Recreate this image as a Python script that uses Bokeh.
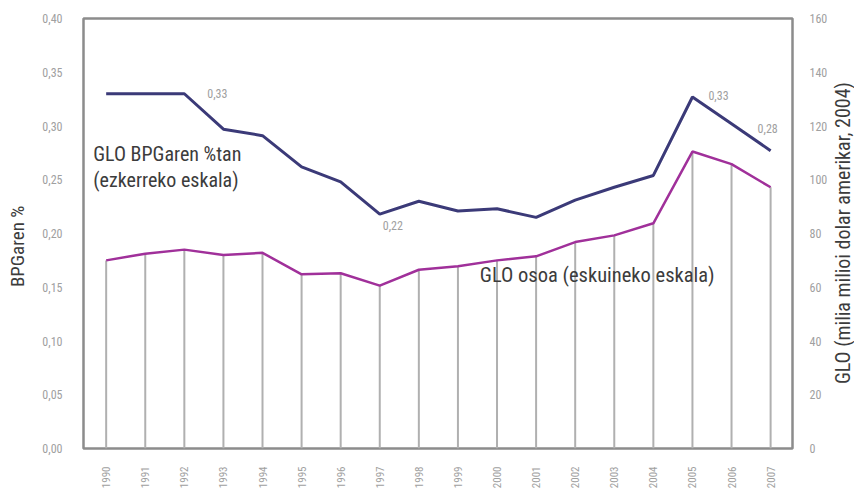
from bokeh.plotting import figure
from bokeh.models import Range1d, LinearAxis, FixedTicker, Label
from bokeh.layouts import row
from bokeh.embed import file_html
from bokeh.resources import INLINE
import math

years = list(range(1990, 2008))
pct_gni = [0.33, 0.33, 0.33, 0.297, 0.291, 0.262, 0.248, 0.218, 0.23, 0.221, 0.223,
           0.215, 0.231, 0.243, 0.254, 0.327, 0.302, 0.277]
glo_total = [70.0, 72.5, 74.0, 72.0, 72.8, 64.8, 65.2, 60.6, 66.5, 67.8, 70.0,
             71.5, 76.8, 79.3, 83.8, 110.5, 105.8, 97.2]
left_ticks = [0.0, 0.05, 0.10, 0.15, 0.20, 0.25, 0.30, 0.35, 0.40]
left_tick_labels = ["0,00", "0,05", "0,10", "0,15", "0,20", "0,25", "0,30", "0,35", "0,40"]
right_ticks = [0, 20, 40, 60, 80, 100, 120, 140, 160]
annot_years = [1992, 1997, 2005, 2007]
annot_text = ["0,33", "0,22", "0,33", "0,28"]
left_title = "BPGaren %"
right_title = "GLO (milia milioi dolar amerikar, 2004)"

FONT = "Liberation Sans Narrow, Roboto Condensed, Liberation Sans, sans-serif"
TICK_COLOR = "#a0a0a0"
TEXT_COLOR = "#3c3c3c"
H = 491


def title_strip(width, text, fx, fy, size):
    s = figure(width=width, height=H, output_backend="svg", toolbar_location=None,
               x_range=Range1d(0, 1), y_range=Range1d(0, 1),
               min_border=0, min_border_left=0, min_border_right=0,
               min_border_top=0, min_border_bottom=0)
    s.axis.visible = False
    s.grid.visible = False
    s.outline_line_color = None
    s.background_fill_color = "white"
    s.border_fill_color = "white"
    s.add_layout(Label(x=fx, y=fy, text=text, angle=math.pi / 2, text_align="center",
                       text_baseline="middle", text_font=FONT, text_font_size=size,
                       text_color=TEXT_COLOR))
    return s


p = figure(width=800, height=H, output_backend="svg", toolbar_location=None,
           x_range=Range1d(1989.42, 2007.56), y_range=Range1d(0, 0.40),
           min_border_left=53, min_border_right=33, min_border_top=18, min_border_bottom=42)
p.extra_y_ranges = {"glo": Range1d(0, 160)}
p.xgrid.visible = False
p.ygrid.visible = False
p.outline_line_color = "#8c8c8c"
p.outline_line_width = 2.5
p.background_fill_color = "white"
p.border_fill_color = "white"

# drop lines (GLO total)
p.segment(x0=years, y0=[0] * len(years), x1=years, y1=glo_total, y_range_name="glo",
          line_color="#b0b0b0", line_width=2)

p.line(years, glo_total, y_range_name="glo", line_color="#a0309a", line_width=2.5)
p.line(years, pct_gni, line_color="#3b3a78", line_width=3)

# axes
left = p.yaxis[0]
left.ticker = FixedTicker(ticks=left_ticks)
left.major_label_overrides = {t: l for t, l in zip(left_ticks, left_tick_labels)}
left.major_label_standoff = 15

right = LinearAxis(y_range_name="glo", ticker=FixedTicker(ticks=right_ticks))
right.major_label_standoff = 11
p.add_layout(right, "right")

p.xaxis.ticker = FixedTicker(ticks=years)
p.xaxis.major_label_orientation = math.pi / 2
p.xaxis.major_label_standoff = 12

for ax in p.yaxis + p.xaxis:
    ax.axis_line_color = None
    ax.major_tick_line_color = None
    ax.minor_tick_line_color = None
    ax.major_label_text_font = FONT
    ax.major_label_text_font_size = "12px"
    ax.major_label_text_color = TICK_COLOR
p.xaxis.major_label_text_font_size = "11px"

# value annotations
offsets = {1992: (23, 0), 1997: (3, -11), 2005: (16, 1), 2007: (-13, 22)}
for yr, txt in zip(annot_years, annot_text):
    yv = pct_gni[years.index(yr)]
    dx, dy = offsets[yr]
    p.add_layout(Label(x=yr, y=yv, text=txt, x_offset=dx, y_offset=dy,
                       text_baseline="middle", text_font=FONT, text_font_size="12px",
                       text_color=TICK_COLOR))

p.add_layout(Label(x=1989.67, y=0.2735, text="GLO BPGaren %tan", text_font=FONT,
                   text_baseline="middle", text_font_size="20px", text_color=TEXT_COLOR))
p.add_layout(Label(x=1989.67, y=0.250, text="(ezkerreko eskala)", text_font=FONT,
                   text_baseline="middle", text_font_size="20px", text_color=TEXT_COLOR))
p.add_layout(Label(x=1999.56, y=64.5, y_range_name="glo", text="GLO osoa (eskuineko eskala)",
                   text_baseline="middle", text_font=FONT, text_font_size="20.5px",
                   text_color=TEXT_COLOR))

left_strip = title_strip(30, left_title, 0.58, 0.47, "19px")
right_strip = title_strip(24, right_title, 0.5, 0.501, "20px")

layout = row(left_strip, p, right_strip, spacing=0)
open("out.html", "w").write(file_html(layout, INLINE))
